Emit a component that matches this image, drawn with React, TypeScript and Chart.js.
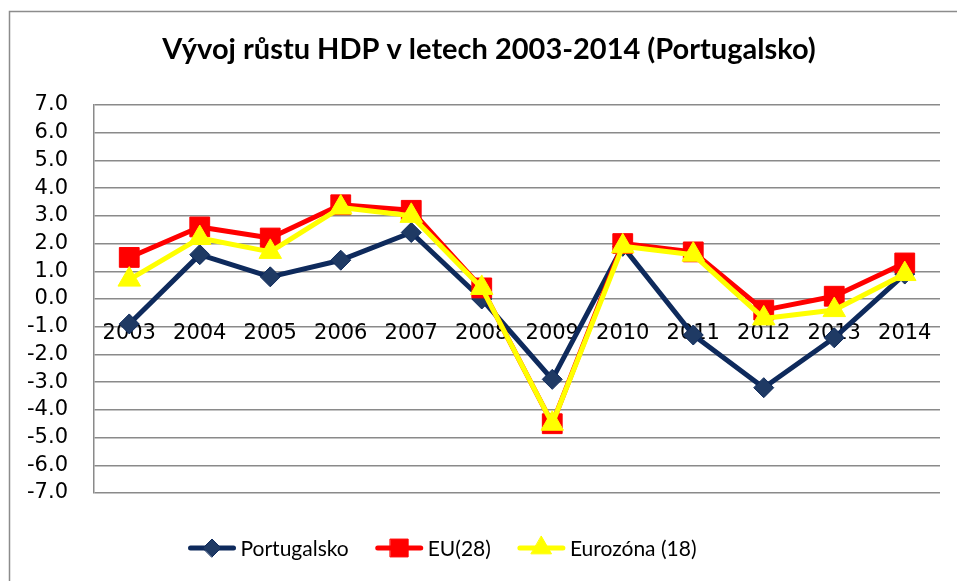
import React, { useEffect, useRef } from 'react';
import { Chart, registerables } from 'chart.js';

Chart.register(...registerables);

const TITLE = 'Vývoj růstu HDP v letech 2003-2014 (Portugalsko)';
const YEARS = ['2003', '2004', '2005', '2006', '2007', '2008', '2009', '2010', '2011', '2012', '2013', '2014'];
const PORTUGAL = [-0.9, 1.6, 0.8, 1.4, 2.4, 0.0, -2.9, 1.9, -1.3, -3.2, -1.4, 0.9];
const EU28 = [1.5, 2.6, 2.2, 3.4, 3.2, 0.4, -4.5, 2.0, 1.7, -0.4, 0.1, 1.3];
const EUROZONE = [0.7, 2.2, 1.7, 3.3, 3.0, 0.4, -4.5, 1.9, 1.6, -0.7, -0.4, 0.9];
const SERIES_LABELS = ['Portugalsko', 'EU(28)', 'Eurozóna (18)'];
const Y_MIN = -7;
const Y_MAX = 7;
const Y_STEP = 1;

const NAVY = '#0e2a5c';
const NAVY_FILL = '#1f3a64';
const RED = '#ff0000';
const YELLOW = '#ffff00';
const GRID = '#8a8a8a';
const TICK_FONT = { family: 'DejaVu Sans', size: 21 };

function drawMarker(ctx: CanvasRenderingContext2D, style: string, x: number, y: number, r: number, fill: string, stroke: string) {
  ctx.save();
  ctx.beginPath();
  if (style === 'rectRot') {
    ctx.moveTo(x - r, y);
    ctx.lineTo(x, y - r);
    ctx.lineTo(x + r, y);
    ctx.lineTo(x, y + r);
    ctx.closePath();
  } else if (style === 'rect') {
    const s = r * Math.SQRT1_2;
    ctx.rect(x - s, y - s, 2 * s, 2 * s);
  } else {
    const a = -Math.PI / 2;
    for (let i = 0; i < 3; i++) {
      const ang = a + (i * 2 * Math.PI) / 3;
      const px = x + Math.cos(ang) * r;
      const py = y + Math.sin(ang) * r;
      if (i === 0) ctx.moveTo(px, py);
      else ctx.lineTo(px, py);
    }
    ctx.closePath();
  }
  ctx.fillStyle = fill;
  ctx.fill();
  ctx.lineWidth = 1;
  ctx.strokeStyle = stroke;
  ctx.stroke();
  ctx.restore();
}

const decorPlugin = {
  id: 'decor',
  beforeDraw(chart: any) {
    const ctx = chart.ctx as CanvasRenderingContext2D;
    ctx.save();
    ctx.fillStyle = '#ffffff';
    ctx.fillRect(0, 0, chart.width, chart.height);
    ctx.strokeStyle = '#8c8c8c';
    ctx.lineWidth = 1.5;
    ctx.beginPath();
    ctx.moveTo(9.5, chart.height + 5);
    ctx.lineTo(9.5, 11.5);
    ctx.lineTo(chart.width + 5, 11.5);
    ctx.stroke();
    ctx.restore();
  },
  afterDraw(chart: any) {
    const ctx = chart.ctx as CanvasRenderingContext2D;
    ctx.save();
    // title
    ctx.fillStyle = '#000';
    ctx.font = 'bold 29px Lato';
    ctx.textAlign = 'center';
    ctx.textBaseline = 'middle';
    ctx.fillText(TITLE, 489, 50);

    // legend
    ctx.font = '21px Lato';
    ctx.textAlign = 'left';
    const lineLen = 47;
    const gap = 5;
    const spacing = 27;
    const ds = chart.data.datasets;
    const widths = ds.map((d: any) => ctx.measureText(d.label).width);
    const total = widths.reduce((a: number, w: number) => a + lineLen + gap + w, 0) + spacing * (ds.length - 1);
    let x = 442.5 - total / 2;
    const y = 548;
    ds.forEach((d: any, i: number) => {
      ctx.beginPath();
      ctx.lineCap = 'round';
      ctx.lineWidth = 5;
      ctx.strokeStyle = d.borderColor;
      ctx.moveTo(x + 2, y);
      ctx.lineTo(x + lineLen - 2, y);
      ctx.stroke();
      drawMarker(ctx, d.pointStyle, x + lineLen / 2, y, d.pointRadius * 0.9, d.pointBackgroundColor, d.pointBorderColor);
      ctx.fillStyle = '#000';
      ctx.fillText(d.label, x + lineLen + gap, y + 1);
      x += lineLen + gap + widths[i] + spacing;
    });
    ctx.restore();
  },
};

export default function App() {
  const ref = useRef<HTMLCanvasElement>(null);
  useEffect(() => {
    const canvas = ref.current!;
    const chart = new Chart(canvas, {
      type: 'line',
      data: {
        labels: YEARS,
        datasets: [
          {
            label: SERIES_LABELS[0],
            data: PORTUGAL,
            borderColor: NAVY,
            backgroundColor: NAVY,
            borderWidth: 5,
            pointStyle: 'rectRot',
            pointRadius: 10,
            pointBackgroundColor: NAVY_FILL,
            pointBorderColor: NAVY,
            pointBorderWidth: 1,
            borderJoinStyle: 'round',
            tension: 0,
            order: 3,
          },
          {
            label: SERIES_LABELS[1],
            data: EU28,
            borderColor: RED,
            backgroundColor: RED,
            borderWidth: 5,
            pointStyle: 'rect',
            pointRadius: 14,
            pointBackgroundColor: RED,
            pointBorderColor: RED,
            pointBorderWidth: 1,
            borderJoinStyle: 'round',
            tension: 0,
            order: 2,
          },
          {
            label: SERIES_LABELS[2],
            data: EUROZONE,
            borderColor: YELLOW,
            backgroundColor: YELLOW,
            borderWidth: 5,
            pointStyle: 'triangle',
            pointRadius: 13,
            pointBackgroundColor: YELLOW,
            pointBorderColor: YELLOW,
            pointBorderWidth: 1,
            borderJoinStyle: 'round',
            tension: 0,
            order: 1,
          },
        ],
      },
      options: {
        responsive: false,
        animation: false,
        devicePixelRatio: 1,
        layout: { padding: { top: 105, bottom: 88, left: 0, right: 17 } },
        plugins: {
          legend: { display: false },
          title: { display: false },
          tooltip: { enabled: false },
        },
        scales: {
          x: {
            type: 'category',
            offset: true,
            position: { y: 0 },
            grid: { display: false, drawTicks: false },
            border: { display: false },
            ticks: { font: TICK_FONT, color: '#000', padding: 22, maxRotation: 0, autoSkip: false },
          },
          y: {
            min: Y_MIN,
            max: Y_MAX,
            afterFit: (s: any) => {
              s.width = 94;
            },
            ticks: {
              stepSize: Y_STEP,
              autoSkip: false,
              font: TICK_FONT,
              color: '#000',
              padding: 26,
              callback: (v: any) => Number(v).toFixed(1),
            },
            grid: { color: GRID, lineWidth: 1.5, drawTicks: false },
            border: { color: GRID, width: 1.5 },
          },
        },
      },
      plugins: [decorPlugin],
    } as any);
    return () => chart.destroy();
  }, []);
  return (
    <div style={{ position: 'absolute', left: 0, top: 0, width: 957, height: 581, background: '#fff' }}>
      <canvas ref={ref} width={957} height={581} style={{ display: 'block', width: 957, height: 581 }} />
    </div>
  );
}
